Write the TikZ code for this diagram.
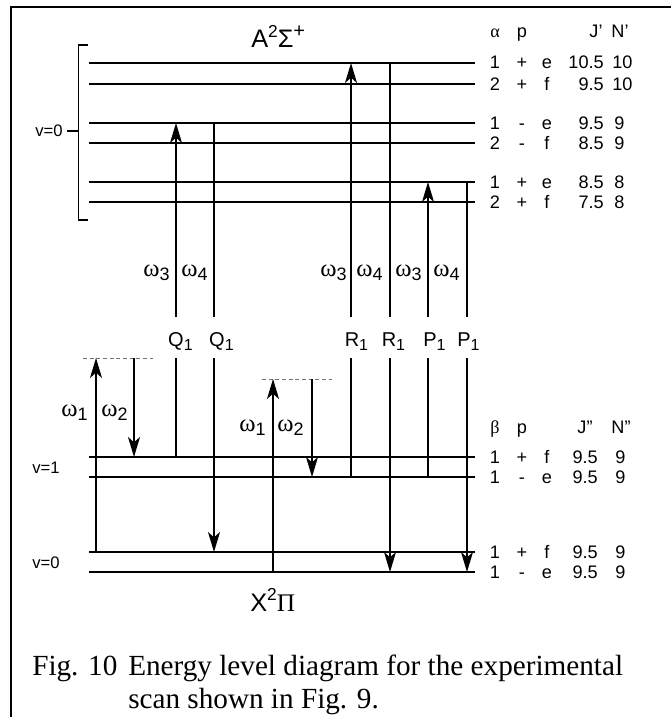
\documentclass[tikz,border=0pt]{standalone}
\usepackage{fontspec}
\setmainfont{Liberation Sans}
\newfontfamily\rmser{Liberation Serif}
\usetikzlibrary{arrows.meta}
\newcommand\omlab[1]{{\rmser\fontsize{18.5pt}{18pt}\selectfont ω}\raisebox{-0.32em}{\fontsize{13.5pt}{14pt}\selectfont #1}}
\newcommand\brlab[2]{{\fontsize{15pt}{15pt}\selectfont #1}\rlap{\raisebox{-0.35em}{\fontsize{12pt}{12pt}\selectfont #2}}}
\newcommand\lrow[9]{%
  \node[lbl,anchor=base] (#1a) at (495,#2) {#3};
  \node[lbl,anchor=base] (#1b) at (522,#2) {#4};
  \node[lbl,anchor=base] (#1c) at (547,#2) {#5};
  \node[lbl,anchor=base east] (#1d) at (#8,#2) {#6};
  \node[lbl,anchor=base west] (#1e) at (#9,#2) {#7};}
\begin{document}
\begin{tikzpicture}[x=0.75pt,y=-0.75pt,
  lvl/.style={line width=1.5pt},
  tr/.style={line width=1.2pt},
  ar/.style={tr,-{Stealth[length=15pt,width=9pt,inset=4pt]}},
  vdsh/.style={line width=0.7pt,dash pattern=on 3pt off 2pt,black!55},
  lbl/.style={inner sep=0pt,font=\fontsize{13.6pt}{15pt}\selectfont},
  om/.style={inner sep=0pt},
  big/.style={inner sep=0pt,font=\fontsize{19pt}{20pt}\selectfont},
  capt/.style={inner sep=0pt,anchor=base west,font=\rmser\fontsize{21.9pt}{24pt}\selectfont}]
\useasboundingbox (0,0) rectangle (671,717);
% frame
\coordinate (ftl) at (10,7.5); \coordinate (ftr) at (671,7.5);
\coordinate (fl1) at (11,7.5); \coordinate (fl2) at (11,717);
\draw[line width=1.5pt] (ftl) -- (ftr);
\draw[line width=2.2pt] (fl1) -- (fl2);
% levels
\foreach \n/\y in {a1/63,a2/84,a3/123,a4/143,a5/182,a6/202,x1/457,x2/477,x3/552,x4/572}{
  \coordinate (\n-L) at (88.5,\y); \coordinate (\n-R) at (475,\y);
  \draw[lvl] (\n-L) -- (\n-R);}
% bracket
\coordinate (bt0) at (88,45); \coordinate (bt) at (78.5,45);
\coordinate (bb) at (78.5,220); \coordinate (bb0) at (88,220);
\draw[line width=0.8pt] (bt0) -- (bt) -- (bb) -- (bb0);
\coordinate (bm) at (78.5,131); \coordinate (bm0) at (67,131);
\draw[line width=0.8pt] (bm0) -- (bm);
\node[lbl,anchor=base east,font=\fontsize{12.5pt}{13pt}\selectfont] (v0a) at (63,136) {v=0};
\node[lbl,anchor=base west,font=\fontsize{12.5pt}{13pt}\selectfont] (v1) at (32,473) {v=1};
\node[lbl,anchor=base west,font=\fontsize{12.5pt}{13pt}\selectfont] (v0x) at (32,568) {v=0};
% transition end points
\foreach \n/\x in {q3/176,q4/214,r3/351,r4/390,p3/428,p4/467}{
  \coordinate (\n-u) at (\x,317); \coordinate (\n-d) at (\x,358);}
\coordinate (q3-t) at (176,123); \coordinate (q4-t) at (214,123);
\coordinate (r3-t) at (351,63);  \coordinate (r4-t) at (390,63);
\coordinate (p3-t) at (428,182); \coordinate (p4-t) at (467,182);
\coordinate (q3-b) at (176,457); \coordinate (q4-b) at (214,552);
\coordinate (r3-b) at (351,477); \coordinate (r4-b) at (390,572);
\coordinate (p3-b) at (428,477); \coordinate (p4-b) at (467,572);
% upper segments
\draw[ar] (q3-u) -- (q3-t);
\draw[tr] (q4-t) -- (q4-u);
\draw[ar] (r3-u) -- (r3-t);
\draw[tr] (r4-t) -- (r4-u);
\draw[ar] (p3-u) -- (p3-t);
\draw[tr] (p4-t) -- (p4-u);
% lower segments
\draw[tr] (q3-d) -- (q3-b);
\draw[ar] (q4-d) -- (q4-b);
\draw[tr] (r3-d) -- (r3-b);
\draw[ar] (r4-d) -- (r4-b);
\draw[tr] (p3-d) -- (p3-b);
\draw[ar] (p4-d) -- (p4-b);
% pump/dump
\coordinate (d1a) at (83,358); \coordinate (d1b) at (153,358);
\coordinate (d2a) at (262,379); \coordinate (d2b) at (332,379);
\draw[vdsh] (d1a) -- (d1b);
\draw[vdsh] (d2a) -- (d2b);
\coordinate (w1a-s) at (96,552); \coordinate (w1a-e) at (96,358);
\coordinate (w2a-s) at (134,358); \coordinate (w2a-e) at (134,457);
\coordinate (w1b-s) at (273,572); \coordinate (w1b-e) at (273,379);
\coordinate (w2b-s) at (312,379); \coordinate (w2b-e) at (312,477);
\draw[ar] (w1a-s) -- (w1a-e);
\draw[ar] (w2a-s) -- (w2a-e);
\draw[ar] (w1b-s) -- (w1b-e);
\draw[ar] (w2b-s) -- (w2b-e);
% omega labels
\node[om,anchor=base east] (o3a) at (170,276) {\omlab{3}};
\node[om,anchor=base west] (o4a) at (181,276) {\omlab{4}};
\node[om,anchor=base east] (o3b) at (347,276) {\omlab{3}};
\node[om,anchor=base west] (o4b) at (356,276) {\omlab{4}};
\node[om,anchor=base west] (o3c) at (395,276) {\omlab{3}};
\node[om,anchor=base west] (o4c) at (433,276) {\omlab{4}};
\node[om,anchor=base east] (o1a) at (88,416) {\omlab{1}};
\node[om,anchor=base west] (o2a) at (101,416) {\omlab{2}};
\node[om,anchor=base east] (o1b) at (266,431) {\omlab{1}};
\node[om,anchor=base west] (o2b) at (277,431) {\omlab{2}};
% branch labels
\node[inner sep=0pt,anchor=base] (lq1) at (176,346) {\brlab{Q}{1}};
\node[inner sep=0pt,anchor=base] (lq2) at (217,346) {\brlab{Q}{1}};
\node[inner sep=0pt,anchor=base] (lr1) at (352,346) {\brlab{R}{1}};
\node[inner sep=0pt,anchor=base] (lr2) at (389,346) {\brlab{R}{1}};
\node[inner sep=0pt,anchor=base] (lp1) at (430,346) {\brlab{P}{1}};
\node[inner sep=0pt,anchor=base] (lp2) at (464,346) {\brlab{P}{1}};
% state names
\node[big,anchor=base west] (atitle) at (251,48) {A\raisebox{0.42em}{\fontsize{13pt}{13pt}\selectfont 2}Σ\raisebox{0.4em}{\fontsize{15pt}{15pt}\selectfont +}};
\node[big,anchor=base west] (xtitle) at (250,611) {X\raisebox{0.42em}{\fontsize{13pt}{13pt}\selectfont 2}{\rmser Π}};
% right labels
\node[lbl,anchor=base] (ha) at (495,38) {\rmser α};
\node[lbl,anchor=base] (hp) at (522,38) {p};
\node[lbl,anchor=base] (hj) at (596,38) {J\symbol{39}};
\node[lbl,anchor=base] (hn) at (620,38) {N\symbol{39}};
\lrow{ra}{69}{1}{+}{e}{10.5}{10}{604}{612}
\lrow{rb}{90}{2}{+}{f}{9.5}{10}{604}{612}
\lrow{rc}{129}{1}{-}{e}{9.5}{9}{604}{614}
\lrow{rd}{149}{2}{-}{f}{8.5}{9}{604}{614}
\lrow{re}{188}{1}{+}{e}{8.5}{8}{604}{614}
\lrow{rf}{208}{2}{+}{f}{7.5}{8}{604}{614}
\node[lbl,anchor=base] (hb) at (495,433) {\rmser β};
\node[lbl,anchor=base] (hp2) at (522,433) {p};
\node[lbl,anchor=base] (hj2) at (585,433) {J\symbol{34}};
\node[lbl,anchor=base] (hn2) at (621,433) {N\symbol{34}};
\lrow{rg}{463}{1}{+}{f}{9.5}{9}{598}{615}
\lrow{rh}{483}{1}{-}{e}{9.5}{9}{598}{615}
\lrow{ri}{558}{1}{+}{f}{9.5}{9}{598}{615}
\lrow{rj}{578}{1}{-}{e}{9.5}{9}{598}{615}
% caption
\node[capt] (fig) at (32,675) {Fig. 10};
\node[capt] (cap1) at (128,675) {Energy level diagram for the experimental};
\node[capt] (cap2) at (128,708) {scan shown in Fig. 9.};
\end{tikzpicture}
\end{document}
